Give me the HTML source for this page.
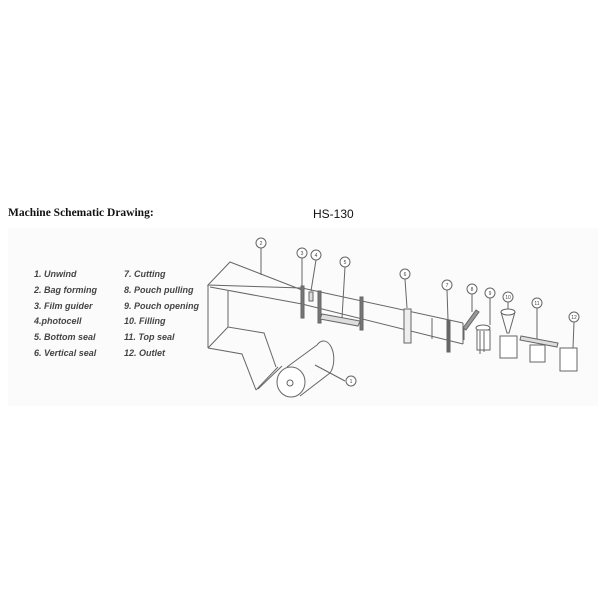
<!DOCTYPE html>
<html><head><meta charset="utf-8"><style>
body{margin:0;background:#fff;width:600px;height:600px;overflow:hidden}
</style></head><body>
<svg width="600" height="600" viewBox="0 0 600 600" xmlns="http://www.w3.org/2000/svg">
<rect x="8" y="228" width="590" height="178" fill="#fbfbfb"/>
<text x="8" y="216" font-family="Liberation Serif,serif" font-weight="bold" font-size="11.5" fill="#111">Machine Schematic Drawing:</text>
<text x="313" y="218" font-family="Liberation Sans,sans-serif" font-size="12" fill="#111">HS-130</text>
<g font-family="Liberation Sans,sans-serif" font-style="italic" font-weight="bold" font-size="9" fill="#444">
<text x="34" y="277">1. Unwind</text>
<text x="34" y="293">2. Bag forming</text>
<text x="34" y="309">3. Film guider</text>
<text x="34" y="324">4.photocell</text>
<text x="34" y="340">5. Bottom seal</text>
<text x="34" y="356">6. Vertical seal</text>
<text x="124" y="277">7. Cutting</text>
<text x="124" y="293">8. Pouch pulling</text>
<text x="124" y="309">9. Pouch opening</text>
<text x="124" y="324">10. Filling</text>
<text x="124" y="340">11. Top seal</text>
<text x="124" y="356">12. Outlet</text>
</g>
<g stroke="#666" stroke-width="1" fill="none">
<polyline points="302,290 230,262 208,285 302,288"/>
<line x1="210" y1="287" x2="302" y2="304"/>
<line x1="208" y1="285" x2="208" y2="348"/>
<line x1="228" y1="291" x2="228" y2="327"/>
<polyline points="208,348 228,327 264,333 276,367"/>
<polyline points="208,348 242,354 256,390"/>
<line x1="256" y1="390" x2="278" y2="367"/>
<line x1="258" y1="389" x2="282" y2="366"/>
<ellipse cx="291" cy="382" rx="14" ry="15" fill="#fff"/>
<circle cx="290" cy="383" r="3"/>
<line x1="287" y1="367" x2="317" y2="345"/>
<line x1="300" y1="396" x2="330" y2="373"/>
<path d="M317,345 A8,14 0 0 1 330,373"/>
<line x1="302" y1="288" x2="463" y2="323"/>
<line x1="302" y1="304" x2="463" y2="344"/>
<line x1="463" y1="323" x2="463" y2="344"/>
<line x1="432" y1="318" x2="432" y2="339"/>
<line x1="261" y1="248" x2="261" y2="275"/>
<line x1="302" y1="258" x2="302" y2="286"/>
<line x1="316" y1="260" x2="311" y2="291"/>
<line x1="345" y1="267" x2="342" y2="318"/>
<line x1="405" y1="279" x2="407" y2="308"/>
<line x1="447" y1="290" x2="448" y2="320"/>
<line x1="472" y1="294" x2="472" y2="312"/>
<line x1="490" y1="298" x2="490" y2="325"/>
<line x1="508" y1="302" x2="508" y2="311"/>
<line x1="537" y1="308" x2="537" y2="339"/>
<line x1="574" y1="322" x2="573" y2="348"/>
<line x1="315" y1="365" x2="345" y2="381"/>
<g fill="#fff">
<circle cx="261" cy="243" r="5"/><circle cx="302" cy="253" r="5"/><circle cx="316" cy="255" r="5"/>
<circle cx="345" cy="262" r="5"/><circle cx="405" cy="274" r="5"/><circle cx="447" cy="285" r="5"/>
<circle cx="472" cy="289" r="5"/><circle cx="490" cy="293" r="5"/><circle cx="508" cy="297" r="5"/>
<circle cx="537" cy="303" r="5"/><circle cx="574" cy="317" r="5"/><circle cx="351" cy="381" r="5"/>
</g>
<rect x="301" y="286" width="3" height="32" fill="#777"/>
<rect x="309" y="292" width="4" height="9" fill="#ddd"/>
<rect x="318" y="291" width="3" height="32" fill="#777"/>
<rect x="360" y="297" width="3" height="33" fill="#777"/>
<polygon points="322,314 360,321 358,326 320,319" fill="#ddd"/>
<rect x="404" y="309" width="7" height="34" fill="#eee"/>
<rect x="447" y="320" width="3" height="32" fill="#666"/>
<polygon points="476,310 479,312 466,330 463,328" fill="#999"/>
<line x1="464" y1="328" x2="464" y2="340"/>
<ellipse cx="483" cy="328" rx="7" ry="3" fill="#fff"/>
<rect x="477" y="330" width="13" height="20" fill="#fff"/>
<line x1="480" y1="331" x2="480" y2="354"/><line x1="484" y1="331" x2="484" y2="352"/>
<ellipse cx="508" cy="312" rx="7" ry="3" fill="#fff"/>
<polyline points="501,312 507,333 509,333 515,312"/>
<rect x="500" y="336" width="17" height="22" fill="#fff"/>
<polygon points="521,336 558,343 557,347 520,340" fill="#ddd"/>
<rect x="530" y="345" width="15" height="17" fill="#fff"/>
<rect x="560" y="348" width="17" height="23" fill="#fff"/>
</g>
<g font-family="Liberation Sans,sans-serif" font-size="5" fill="#444" text-anchor="middle">
<text x="261" y="245">2</text><text x="302" y="255">3</text><text x="316" y="257">4</text>
<text x="345" y="264">5</text><text x="405" y="276">6</text><text x="447" y="287">7</text>
<text x="472" y="291">8</text><text x="490" y="295">9</text><text x="508" y="299">10</text>
<text x="537" y="305">11</text><text x="574" y="319">12</text><text x="351" y="383">1</text>
</g>
</svg>
</body></html>
